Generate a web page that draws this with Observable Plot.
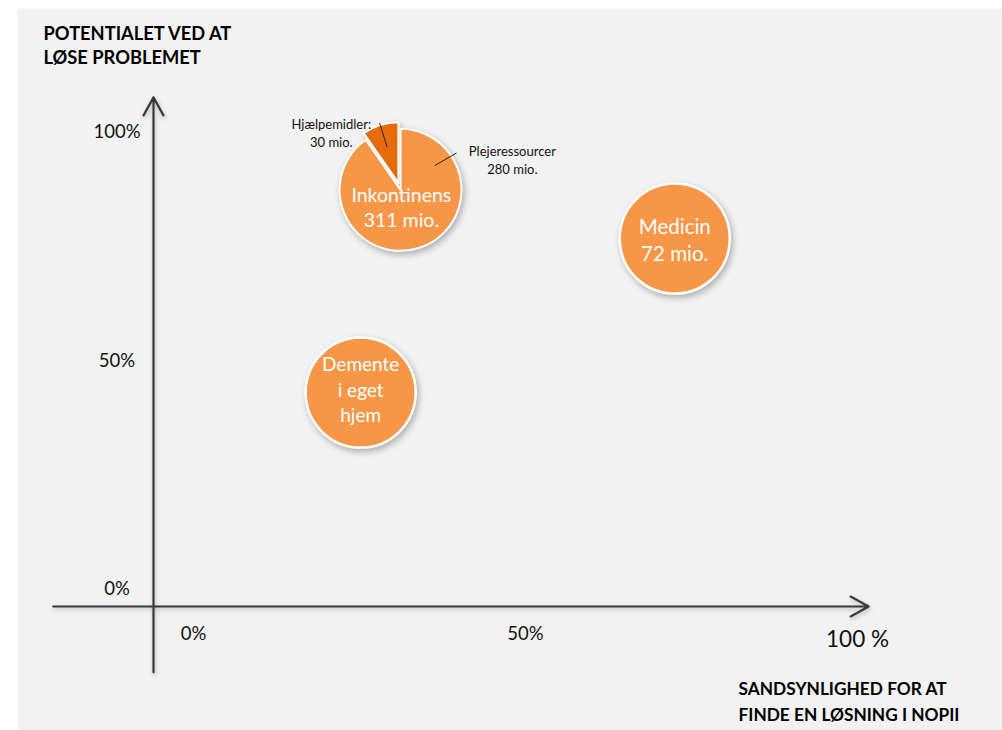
<!DOCTYPE html>
<html><head><meta charset="utf-8">
<script src="https://cdn.jsdelivr.net/npm/d3@7"></script>
<script src="https://cdn.jsdelivr.net/npm/@observablehq/plot@0.6"></script>
<style>
body{margin:0;background:#fff;}
#chart svg{display:block;font-family:Lato,"Open Sans",sans-serif;}
g[aria-label="dot"] circle, .pie {filter: drop-shadow(2px 3px 3px rgba(0,0,0,0.28));}
g[aria-label="arrow"] path {filter: drop-shadow(1px 2px 2px rgba(0,0,0,0.25));}
</style></head><body><div id="chart"></div>
<script>
// ---- data ----
const bubbleNames = ["Inkontinens\n311 mio.", "Medicin\n72 mio.", "Demente\ni eget\nhjem"];
const bubbleX = [37.1, 78.5, 31.2];   // sandsynlighed (%)
const bubbleY = [91.9, 80.5, 46.8];   // potentiale (%)
const pieCategories = ["Plejeressourcer", "Hjælpemidler"];
const pieValues = [280, 30];
const pieLabels = ["Plejeressourcer\n280 mio.", "Hjælpemidler:\n30 mio."];
const xTicks = [0, 50, 100];
const xTickLabels = ["0%", "50%", "100 %"];
const yTicks = [0, 50, 100];
const yTickLabels = ["0%", "50%", "100%"];
const yTitle = "POTENTIALET VED AT\nLØSE PROBLEMET";
const xTitle = "SANDSYNLIGHED FOR AT\nFINDE EN LØSNING I NOPII";

// ---- tables ----
const bubbles = bubbleNames.map((name, i) => ({name, x: bubbleX[i], y: bubbleY[i], pie: i === 0}));
const pieBubble = bubbles[0];
const plainBubbles = bubbles.filter(d => !d.pie);
const xTickData = xTicks.map((v, i) => ({v, label: xTickLabels[i]}));
const yTickData = yTicks.map((v, i) => ({v, label: yTickLabels[i]}));
const xAxisLine = [{x1: -15.1, y1: 0, x2: 107.7, y2: 0}];
const yAxisLine = [{x1: 0, y1: -14.4, x2: 0, y2: 111.4}];

const ORANGE = "#f79646", DARK = "#e46c0a";
const pieColors = [ORANGE, DARK];
const explode = [4, 3];
const PIE_R = 61;

function pieMark(index, scales) {
  const cx = scales.x(pieBubble.x), cy = scales.y(pieBubble.y);
  const arcs = d3.pie().sort(null)(pieValues);
  const arc = d3.arc().innerRadius(0).outerRadius(PIE_R);
  const root = d3.create("svg:g");
  const g = root.append("g").attr("class", "pie").attr("transform", `translate(${cx},${cy})`);
  arcs.forEach((a, i) => {
    const mid = (a.startAngle + a.endAngle) / 2;
    g.append("path").attr("d", arc(a)).attr("fill", pieColors[i])
      .attr("stroke", "white").attr("stroke-width", 2).attr("stroke-linejoin", "round")
      .attr("transform", `translate(${Math.sin(mid) * explode[i]},${-Math.cos(mid) * explode[i]})`);
  });
  // leader lines
  const leaderAngles = [Math.PI / 3, (arcs[1].startAngle + arcs[1].endAngle) / 2];
  const lg = root.append("g").attr("transform", `translate(${cx},${cy})`);
  leaderAngles.forEach(t => {
    lg.append("line")
      .attr("x1", Math.sin(t) * 41).attr("y1", -Math.cos(t) * 41)
      .attr("x2", Math.sin(t) * 66).attr("y2", -Math.cos(t) * 66)
      .attr("stroke", "#222").attr("stroke-width", 1);
  });
  return root.node();
}

const chart = Plot.plot({
  width: 1002, height: 730,
  marginLeft: 17, marginTop: 8, marginRight: 0, marginBottom: 0,
  x: {domain: [0, 100], range: [153, 817], axis: null},
  y: {domain: [0, 100], range: [606, 149], axis: null},
  style: {background: "white", fontFamily: "Lato, 'Open Sans', sans-serif"},
  marks: [
    Plot.frame({fill: "#f2f2f2", stroke: "none"}),
    Plot.arrow(xAxisLine, {x1: "x1", y1: "y1", x2: "x2", y2: "y2", stroke: "#3a3a3a", strokeWidth: 2.2, headLength: 14, headAngle: 58}),
    Plot.arrow(yAxisLine, {x1: "x1", y1: "y1", x2: "x2", y2: "y2", stroke: "#3a3a3a", strokeWidth: 2.2, headLength: 14, headAngle: 58}),
    // tick labels
    Plot.text(yTickData, {x: () => 0, y: "v", text: "label", dx: -36.5, dy: -17, fontSize: 18.5, fill: "#111"}),
    Plot.text(xTickData.slice(0, 2), {x: "v", y: () => 0, text: "label", dx: 40, dy: 28, fontSize: 18.5, fill: "#111"}),
    Plot.text(xTickData.slice(2), {x: "v", y: () => 0, text: "label", dx: 40, dy: 33, fontSize: 22.5, fill: "#111"}),
    // bubbles
    Plot.dot(plainBubbles, {x: "x", y: "y", r: 55, fill: ORANGE, stroke: "white", strokeWidth: 2.5}),
    pieMark,
    Plot.text(plainBubbles.slice(0, 1), {x: "x", y: "y", text: "name", fill: "white", fontSize: 20.5, lineHeight: 1.35, dy: 0}),
    Plot.text(plainBubbles.slice(1), {x: "x", y: "y", text: "name", fill: "white", fontSize: 19, lineHeight: 1.33, dy: -4}),
    Plot.text([pieBubble], {x: "x", y: "y", text: "name", fill: "white", fontSize: 19.5, lineHeight: 1.28, dx: 1.5, dy: 20}),
    // pie labels
    Plot.text([pieLabels[0]], {x: () => pieBubble.x, y: () => pieBubble.y, text: d => d, dx: 112.5, dy: -27.5, fontSize: 13, lineHeight: 1.45, fill: "#111"}),
    Plot.text([pieLabels[1]], {x: () => pieBubble.x, y: () => pieBubble.y, text: d => d, dx: -68.5, dy: -54.5, fontSize: 13, lineHeight: 1.45, fill: "#111"}),
    // axis titles
    Plot.text([yTitle], {frameAnchor: "top-left", text: d => d, dx: 26, dy: 14, lineAnchor: "top", textAnchor: "start", fontWeight: "bold", fontSize: 18.3, lineHeight: 1.32, fill: "#000"}),
    Plot.text([xTitle], {frameAnchor: "top-left", text: d => d, dx: 721, dy: 668, lineAnchor: "top", textAnchor: "start", fontWeight: "bold", fontSize: 17.3, lineHeight: 1.5, fill: "#000"})
  ]
});
document.getElementById("chart").appendChild(chart);
</script></body></html>
